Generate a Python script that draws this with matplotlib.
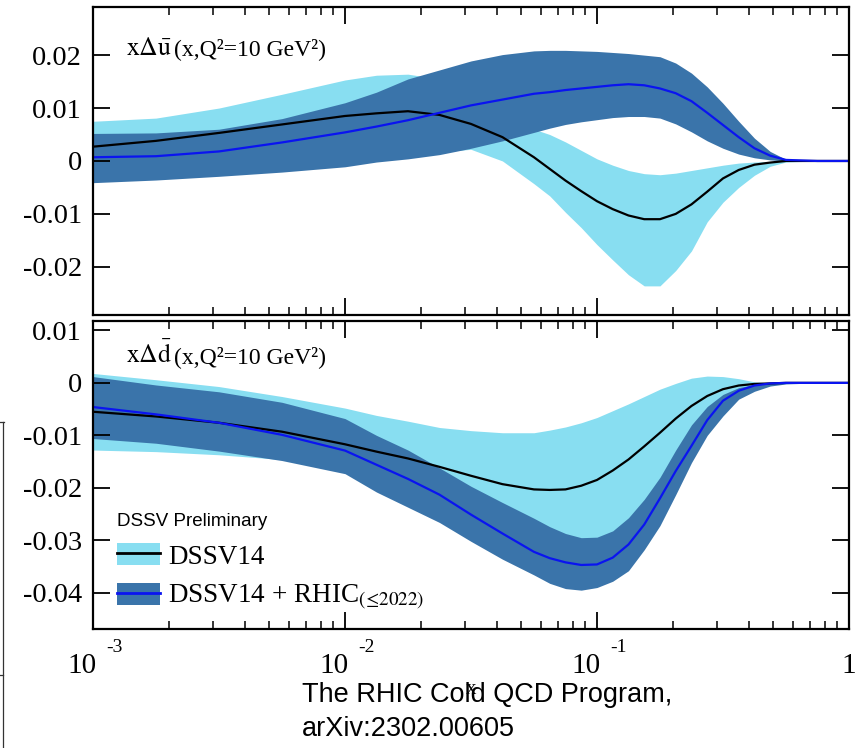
import matplotlib
matplotlib.use("Agg")
import matplotlib.pyplot as plt
import numpy as np
from matplotlib.patches import Patch
from matplotlib.lines import Line2D
from matplotlib.legend_handler import HandlerTuple
from matplotlib.ticker import NullFormatter

plt.rcParams["font.family"] = "Liberation Serif"
plt.rcParams["mathtext.fontset"] = "stix"
plt.rcParams["axes.unicode_minus"] = False

# -------------------------------
# Data, log10(x) grid
# -------------------------------
logx = [-3.0, -2.75, -2.5, -2.25, -2.0, -1.875, -1.75, -1.625, -1.5, -1.375,
        -1.25, -1.1875, -1.125, -1.0625, -1.0, -0.9375, -0.875, -0.8125, -0.75, -0.6875,
        -0.625, -0.5625, -0.5, -0.4375, -0.375, -0.3125, -0.25, -0.125, 0.0]

# x*Delta ubar
u_dssv = [0.0027, 0.0038, 0.0053, 0.0069, 0.0085, 0.0090, 0.0094, 0.0087, 0.0070, 0.0045,
          0.0007, -0.0015, -0.0037, -0.0057, -0.0076, -0.0091, -0.0103, -0.0110, -0.0110, -0.0100,
          -0.0082, -0.0058, -0.0033, -0.0017, -0.0007, -0.0003, 0.0, 0.0, 0.0]
u_dssv_hi = [0.0075, 0.0081, 0.0100, 0.0126, 0.0153, 0.0162, 0.0164, 0.0155, 0.0140, 0.0100,
             0.0060, 0.0050, 0.0036, 0.0020, 0.0004, -0.0008, -0.0018, -0.0024, -0.0026, -0.0023,
             -0.0018, -0.0013, -0.0008, -0.0004, -0.0002, -0.0001, 0.0, 0.0, 0.0]
u_dssv_lo = [-0.0022, -0.0018, -0.0012, -0.0006, 0.0000, 0.0005, 0.0010, 0.0017, 0.0022, 0.0000,
             -0.0043, -0.0066, -0.0097, -0.0126, -0.0158, -0.0187, -0.0215, -0.0236, -0.0236, -0.0207,
             -0.0170, -0.0115, -0.0078, -0.0050, -0.0027, -0.0010, -0.0002, 0.0, 0.0]
u_rhic = [0.0007, 0.0009, 0.0018, 0.0035, 0.0054, 0.0065, 0.0077, 0.0091, 0.0105, 0.0116,
          0.0127, 0.0130, 0.0134, 0.0137, 0.0140, 0.0143, 0.0145, 0.0143, 0.0137, 0.0128,
          0.0113, 0.0091, 0.0068, 0.0045, 0.0024, 0.0010, 0.0002, 0.0, 0.0]
u_rhic_hi = [0.0052, 0.0053, 0.0060, 0.0080, 0.0110, 0.0130, 0.0155, 0.0172, 0.0189, 0.0201,
             0.0208, 0.0209, 0.0209, 0.0208, 0.0207, 0.0205, 0.0203, 0.0200, 0.0197, 0.0185,
             0.0166, 0.0140, 0.0109, 0.0075, 0.0043, 0.0018, 0.0003, 0.0, 0.0]
u_rhic_lo = [-0.0041, -0.0036, -0.0029, -0.0021, -0.0011, -0.0002, 0.0004, 0.0012, 0.0024, 0.0038,
             0.0054, 0.0062, 0.0069, 0.0074, 0.0078, 0.0082, 0.0084, 0.0084, 0.0081, 0.0070,
             0.0055, 0.0038, 0.0024, 0.0013, 0.0006, 0.0002, 0.0, 0.0, 0.0]

# x*Delta dbar
d_dssv = [-0.0055, -0.0064, -0.0076, -0.0093, -0.0117, -0.0131, -0.0144, -0.0160, -0.0177, -0.0193,
          -0.0203, -0.0204, -0.0203, -0.0196, -0.0185, -0.0167, -0.0146, -0.0121, -0.0095, -0.0068,
          -0.0044, -0.0025, -0.0012, -0.0005, -0.0002, -0.0001, 0.0, 0.0, 0.0]
d_dssv_hi = [0.0018, 0.0006, -0.0007, -0.0026, -0.0048, -0.0062, -0.0073, -0.0085, -0.0091, -0.0095,
             -0.0095, -0.0090, -0.0084, -0.0076, -0.0066, -0.0053, -0.0040, -0.0026, -0.0012, -0.0001,
             0.0009, 0.0013, 0.0012, 0.0008, 0.0002, 0.0, 0.0, 0.0, 0.0]
d_dssv_lo = [-0.0128, -0.0131, -0.0137, -0.0146, -0.0165, -0.0175, -0.0190, -0.0213, -0.0240, -0.0270,
             -0.0285, -0.0292, -0.0295, -0.0298, -0.0295, -0.0290, -0.0265, -0.0235, -0.0195, -0.0150,
             -0.0110, -0.0065, -0.0035, -0.0015, -0.0006, -0.0002, 0.0, 0.0, 0.0]
d_rhic = [-0.0046, -0.0060, -0.0076, -0.0099, -0.0129, -0.0156, -0.0183, -0.0213, -0.0251, -0.0287,
          -0.0322, -0.0334, -0.0342, -0.0347, -0.0346, -0.0333, -0.0308, -0.0270, -0.0220, -0.0168,
          -0.0120, -0.0071, -0.0034, -0.0015, -0.0005, -0.0001, 0.0, 0.0, 0.0]
d_rhic_hi = [0.0012, -0.0004, -0.0017, -0.0037, -0.0068, -0.0100, -0.0128, -0.0162, -0.0197, -0.0228,
             -0.0258, -0.0274, -0.0287, -0.0295, -0.0294, -0.0282, -0.0257, -0.0222, -0.0180, -0.0128,
             -0.0080, -0.0045, -0.0022, -0.0009, -0.0003, 0.0, 0.0, 0.0, 0.0]
d_rhic_lo = [-0.0106, -0.0115, -0.0130, -0.0148, -0.0173, -0.0208, -0.0237, -0.0266, -0.0302, -0.0336,
             -0.0366, -0.0382, -0.0392, -0.0395, -0.0390, -0.0378, -0.0358, -0.0318, -0.0272, -0.0213,
             -0.0152, -0.0100, -0.0063, -0.0031, -0.0016, -0.0006, -0.0002, 0.0, 0.0]

top_yticks = [-0.02, -0.01, 0, 0.01, 0.02]
top_ylabels = ["-0.02", "-0.01", "0", "0.01", "0.02"]
bot_yticks = [-0.04, -0.03, -0.02, -0.01, 0, 0.01]
bot_ylabels = ["-0.04", "-0.03", "-0.02", "-0.01", "0", "0.01"]
xtick_exps = [-3, -2, -1, 0]

# Colors
light = "#88def1"
dark = "#3a74aa"
blue = "#0a14f0"

x = 10.0 ** np.array(logx)

fig = plt.figure(figsize=(8.64, 7.48), dpi=100)
ax1 = fig.add_axes([0.1076, 0.5789, 0.875, 0.4118])
ax2 = fig.add_axes([0.1076, 0.1591, 0.875, 0.4118])

panels = [
    (ax1, u_dssv, u_dssv_lo, u_dssv_hi, u_rhic, u_rhic_lo, u_rhic_hi, (-0.0291, 0.0291), top_yticks, top_ylabels),
    (ax2, d_dssv, d_dssv_lo, d_dssv_hi, d_rhic, d_rhic_lo, d_rhic_hi, (-0.0469, 0.0118), bot_yticks, bot_ylabels),
]

for ax, c1, lo1, hi1, c2, lo2, hi2, ylim, yt, yl in panels:
    ax.fill_between(x, lo1, hi1, color=light, lw=0)
    ax.fill_between(x, lo2, hi2, color=dark, lw=0)
    ax.plot(x, c1, color="black", lw=1.6)
    ax.plot(x, c2, color=blue, lw=1.6)

    ax.set_xscale("log")
    ax.set_xlim(1e-3, 1)
    ax.set_ylim(*ylim)
    ax.set_yticks(yt)
    ax.set_yticklabels(yl)
    ax.tick_params(which="both", direction="in", top=True, right=True, labelbottom=False)
    ax.tick_params(which="major", length=12, width=1.3, labelsize=20.5, pad=8)
    ax.tick_params(which="minor", length=6, width=1.1)
    ax.xaxis.set_minor_formatter(NullFormatter())
    for s in ax.spines.values():
        s.set_linewidth(1.6)

# panel labels
ax1.text(0.0437, 0.844, r"$\mathrm{x}\Delta\bar{\mathrm{u}}$", transform=ax1.transAxes,
         fontsize=18.5, va="baseline")
ax1.text(0.107, 0.844, "(x,Q²=10 GeV²)", transform=ax1.transAxes, fontsize=17, va="baseline")
ax2.text(0.0437, 0.8636, r"$\mathrm{x}\Delta\bar{\mathrm{d}}$", transform=ax2.transAxes,
         fontsize=18.5, va="baseline")
ax2.text(0.107, 0.8636, "(x,Q²=10 GeV²)", transform=ax2.transAxes, fontsize=17, va="baseline")

# x tick labels, drawn as "10" plus raised exponent
for e in xtick_exps:
    xt = 10.0 ** e
    if e == 0:
        ax2.annotate("1", xy=(xt, 0), xycoords=ax2.get_xaxis_transform(), xytext=(0, -31.7),
                     textcoords="offset points", ha="center", va="baseline", fontsize=21)
    else:
        ax2.annotate("10", xy=(xt, 0), xycoords=ax2.get_xaxis_transform(), xytext=(2.5, -31.7),
                     textcoords="offset points", ha="right", va="baseline", fontsize=21)
        ax2.annotate("-%d" % -e, xy=(xt, 0), xycoords=ax2.get_xaxis_transform(), xytext=(9.5, -16.6),
                     textcoords="offset points", ha="left", va="baseline", fontsize=14)

ax2.text(0.5, -0.198, "x", transform=ax2.transAxes, ha="center", va="center", fontsize=15)

# legend
h1 = (Patch(facecolor=light, edgecolor="none"), Line2D([], [], color="black", lw=2))
h2 = (Patch(facecolor=dark, edgecolor="none"), Line2D([], [], color=blue, lw=2))
ax2.legend([h1, h2], ["DSSV14", r"DSSV14 + RHIC$_{(\!\leq\!2022)}$"],
           handler_map={tuple: HandlerTuple(ndivide=1, pad=0)},
           loc="upper left", bbox_to_anchor=(0.0317, 0.377), frameon=False,
           fontsize=19.5, handlelength=1.6, handleheight=0.85, handletextpad=0.3,
           labelspacing=0.5, borderpad=0, borderaxespad=0,
           title="DSSV Preliminary",
           title_fontproperties={"family": "Liberation Sans", "size": 13.5},
           alignment="left")

# citation
fig.text(302 / 864, 1 - 702 / 748, "The RHIC Cold QCD Program,", family="Liberation Sans",
         fontsize=19.5, va="baseline")
fig.text(302 / 864, 1 - 736 / 748, "arXiv:2302.00605", family="Liberation Sans",
         fontsize=19.5, va="baseline")

# stray frame edge at the left of the slide
for xs, ys in [([3, 3], [422, 748]), ([0, 4], [422, 422]), ([0, 3], [675, 675])]:
    fig.add_artist(Line2D(np.array(xs) / 864, 1 - np.array(ys) / 748,
                          transform=fig.transFigure, color="#333333", lw=0.9))

fig.savefig("out.png", dpi=100)
